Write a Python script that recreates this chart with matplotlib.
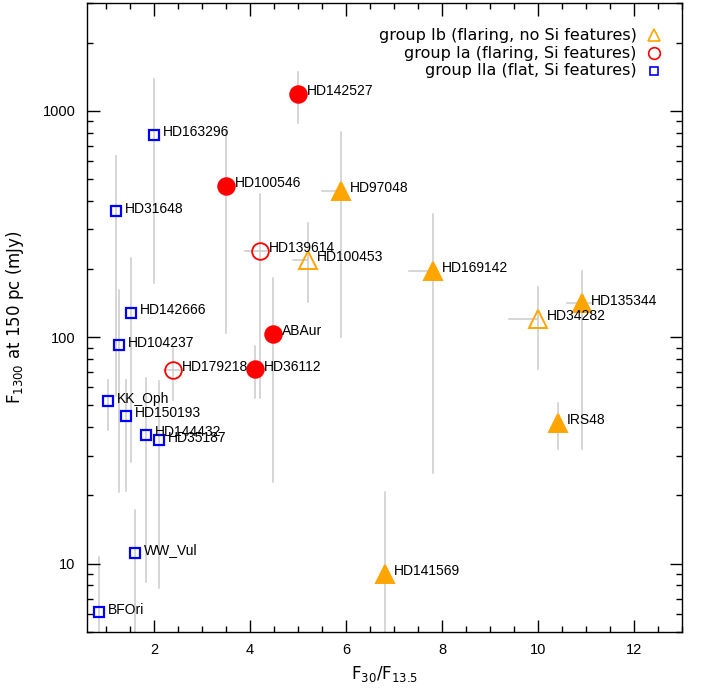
import matplotlib
matplotlib.use("Agg")
import matplotlib.pyplot as plt
from matplotlib.ticker import FixedLocator, LogLocator, NullFormatter, MultipleLocator
import numpy as np

plt.rcParams['font.family'] = ['Liberation Sans', 'DejaVu Sans']
plt.rcParams['mathtext.default'] = 'regular'

# ---- data ----
names = ["HD163296", "HD31648", "HD142666", "HD104237", "HD179218", "HD36112",
         "ABAur", "KK_Oph", "HD150193", "HD144432", "HD35187", "WW_Vul", "BFOri",
         "HD141569", "IRS48", "HD34282", "HD135344", "HD169142", "HD100453",
         "HD97048", "HD139614", "HD142527", "HD100546"]
ratio = [2.0, 1.21, 1.52, 1.27, 2.4, 4.1, 4.48, 1.05, 1.42, 1.83, 2.11, 1.61, 0.86,
         6.8, 10.4, 10.0, 10.9, 7.8, 5.2, 5.9, 4.2, 5.0, 3.5]
flux = [780, 359, 128, 92, 71.6, 72, 103, 52, 45, 37, 35, 11.1, 6.08,
        9.0, 41.8, 120, 141, 196, 220, 441, 241, 1185, 464]
flux_lo = [173, 55, 28, 20.6, 53, 54, 23, 39, 21, 8.3, 7.8, 3, 3,
           3, 32, 72, 32, 25, 143, 100, 54, 880, 104]
flux_hi = [1383, 634, 223, 161, 90, 91, 182, 65, 65, 66, 64, 17.3, 10.7,
           20.6, 51, 166, 195, 349, 318, 802, 427, 1486, 815]
ratio_lo = [2.0, 1.21, 1.52, 1.27, 2.2, 4.1, 4.48, 1.05, 1.42, 1.83, 2.11, 1.61, 0.86,
            6.8, 10.4, 9.4, 10.6, 7.3, 4.9, 5.5, 3.9, 5.0, 3.5]
ratio_hi = [2.0, 1.21, 1.52, 1.27, 2.6, 4.1, 4.48, 1.05, 1.42, 1.83, 2.11, 1.61, 0.86,
            6.8, 10.4, 10.0, 11.1, 7.8, 5.2, 5.9, 4.35, 5.0, 3.5]
group = ["IIa", "IIa", "IIa", "IIa", "Ia", "Ia", "Ia", "IIa", "IIa", "IIa", "IIa", "IIa", "IIa",
         "Ib", "Ib", "Ib", "Ib", "Ib", "Ib", "Ib", "Ia", "Ia", "Ia"]
filled = [False, False, False, False, False, True, True, False, False, False, False, False, False,
          True, True, False, True, True, False, True, False, True, True]

legend_labels = ["group Ib (flaring, no Si features)",
                 "group Ia (flaring, Si features)",
                 "group IIa (flat, Si features)"]
legend_groups = ["Ib", "Ia", "IIa"]

style = {"Ia": dict(marker="o", color="#ff0000", ms=12, mew=1.3),
         "Ib": dict(marker="^", color="#ffa500", ms=13, mew=1.4),
         "IIa": dict(marker="s", color="#0000ff", ms=7.5, mew=1.6)}

fig = plt.figure(figsize=(7.05, 6.9), dpi=100)
ax = fig.add_axes([0.123, 0.0845, 0.845, 0.9115])

grey = "#cccccc"
for i in range(len(names)):
    x, y = ratio[i], flux[i]
    ax.plot([x, x], [flux_lo[i], flux_hi[i]], color=grey, lw=1.1, zorder=1)
    if ratio_lo[i] != ratio_hi[i]:
        ax.plot([ratio_lo[i], ratio_hi[i]], [y, y], color=grey, lw=1.1, zorder=1)
    st = style[group[i]]
    c = st["color"]
    ax.plot(x, y, linestyle="none", marker=st["marker"], ms=st["ms"], mew=st["mew"],
            mec=c, mfc=c if filled[i] else "none", zorder=3)
    ax.annotate(names[i], (x, y), xytext=(6.5, 2), textcoords="offset points",
                ha="left", va="center", fontsize=10, color="black", zorder=4)

ax.set_xscale("linear")
ax.set_yscale("log")
ax.set_xlim(0.6, 13.0)
ax.set_ylim(5, 3000)

ax.xaxis.set_major_locator(MultipleLocator(2))
ax.xaxis.set_minor_locator(MultipleLocator(0.5))
ax.yaxis.set_major_locator(FixedLocator([10, 100, 1000]))
ax.yaxis.set_minor_locator(LogLocator(base=10, subs=np.arange(2, 10)))
ax.yaxis.set_minor_formatter(NullFormatter())
ax.set_yticklabels(["10", "100", "1000"])

ax.tick_params(which="both", direction="in", top=True, right=True, labelsize=10.5,
               width=1.0, color="black")
ax.tick_params(which="major", length=9, pad=8)
ax.tick_params(which="minor", length=4.5)
for sp in ax.spines.values():
    sp.set_linewidth(1.0)

ax.set_xlabel(r"F$_{30}$/F$_{13.5}$", fontsize=12, family="DejaVu Sans", labelpad=5)
ax.set_ylabel(r"F$_{1300}$ at 150 pc (mJy)", fontsize=12, family="DejaVu Sans", labelpad=12)

# legend (manual, right-aligned text with symbol to the right)
ly = [0.9486, 0.920, 0.892]
for lab, g, yy in zip(legend_labels, legend_groups, ly):
    ax.text(0.923, yy, lab, transform=ax.transAxes, ha="right", va="center",
            fontsize=11.5, family="DejaVu Sans")
    st = style[g]
    ax.plot([0.952], [yy], transform=ax.transAxes, linestyle="none", marker=st["marker"],
            ms=st["ms"] * 0.7, mew=1.2, mec=st["color"], mfc="none", clip_on=False)

fig.savefig("out.png", dpi=100)
